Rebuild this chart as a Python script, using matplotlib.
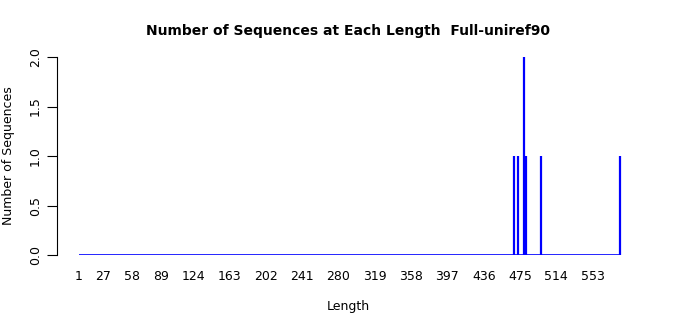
import numpy as np
import matplotlib
matplotlib.use("Agg")
import matplotlib.pyplot as plt

# sequence lengths that occur, and how many sequences have each
lengths = [469, 473, 479, 481, 498, 582]
counts = [1, 1, 2, 1, 1, 1]
min_len = 1
max_len = 582
tick_labels = [1, 27, 58, 89, 124, 163, 202, 241, 280, 319, 358, 397, 436, 475, 514, 553]

fig = plt.figure(figsize=(7, 3.15), dpi=100)
ax = fig.add_axes([57 / 700, 1 - 255 / 315, (640 - 57) / 700, (255 - 57) / 315])

# zero-height bars show up as a blue line along the base
ax.plot([min_len, max_len], [0, 0], color="blue", lw=1.2, solid_capstyle="butt")
ax.vlines(lengths, 0, counts, color="blue", lw=1.6)

ax.set_xlim(-22.6, 604)
ax.set_ylim(0, 2)

for s in ["top", "right", "bottom"]:
    ax.spines[s].set_visible(False)
ax.spines["left"].set_linewidth(0.8)

ax.set_yticks([0, 0.5, 1, 1.5, 2])
ax.set_yticklabels(["0.0", "0.5", "1.0", "1.5", "2.0"], rotation=90, va="center", fontsize=9)
ax.tick_params(axis="y", length=7, width=0.8, pad=4)

ax.set_xticks(tick_labels)
ax.set_xticklabels([str(t) for t in tick_labels], fontsize=9)
ax.tick_params(axis="x", length=0, pad=11)

ax.set_title("Number of Sequences at Each Length  Full-uniref90", fontsize=10, fontweight="bold", pad=16)
ax.set_xlabel("Length", fontsize=9, labelpad=12)
ax.set_ylabel("Number of Sequences", fontsize=9, labelpad=10)

fig.savefig("out.png", dpi=100)
